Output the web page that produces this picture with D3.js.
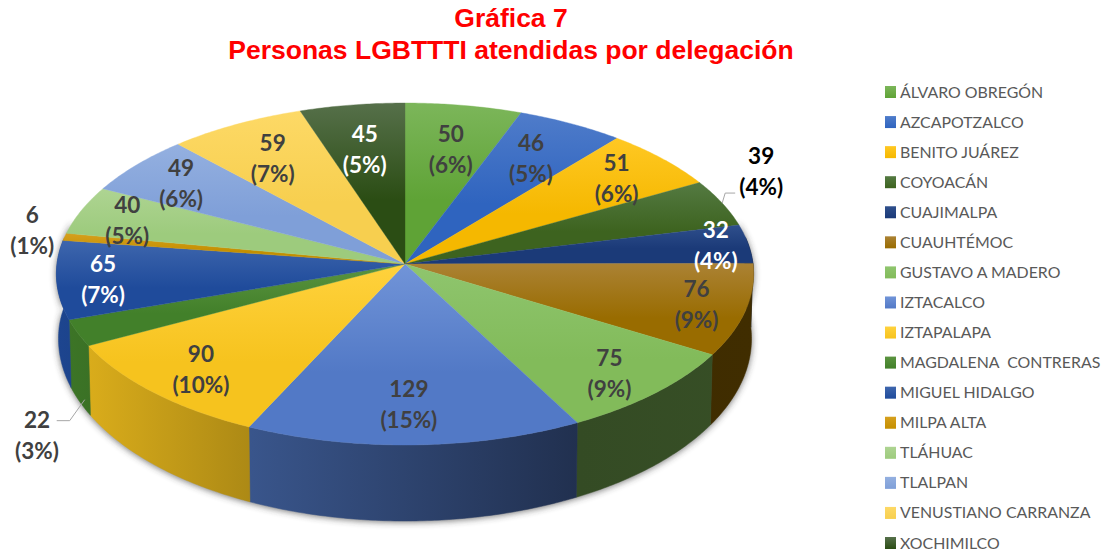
<!DOCTYPE html>
<html><head><meta charset="utf-8">
<script src="https://cdnjs.cloudflare.com/ajax/libs/d3/7.8.5/d3.min.js"></script>
<style>html,body{margin:0;padding:0;background:#fff}svg{display:block}</style>
</head><body><svg id="c" width="1104" height="552"></svg>
<script>
const titleLines = ["Gráfica 7", "Personas LGBTTTI atendidas por delegación"];
const categories = ["ÁLVARO OBREGÓN","AZCAPOTZALCO","BENITO JUÁREZ","COYOACÁN","CUAJIMALPA","CUAUHTÉMOC","GUSTAVO A MADERO","IZTACALCO","IZTAPALAPA","MAGDALENA  CONTRERAS","MIGUEL HIDALGO","MILPA ALTA","TLÁHUAC","TLALPAN","VENUSTIANO CARRANZA","XOCHIMILCO"];
const values = [50,46,51,39,32,76,75,129,90,22,65,6,40,49,59,45];
const percents = ["6%","5%","6%","4%","4%","9%","9%","15%","10%","3%","7%","1%","5%","6%","7%","5%"];
const topColors = ["#7cb65a","#4f7cca","#ffc823","#547a42","#2f4f8c","#ab8234","#8fc56e","#7194d8","#ffd23d","#5b9440","#3e66ad","#d6a01e","#aed492","#94b0e0","#fdd966","#56704a"];
const bottomColors = ["#5fa336","#2f64bf","#f5b800","#3d631f","#1b3a78","#996c00","#82bb5a","#5279c6","#f6c31e","#42802a","#1f4b9b","#c48f00","#9dcb7d","#7f9fd8","#f7cf4f","#2b4d14"];
const labelColors = ["#404040","#404040","#404040","#000000","#ffffff","#404040","#404040","#404040","#404040","#404040","#ffffff","#404040","#404040","#404040","#404040","#ffffff"];
// label displacement from the slice's default anchor (0.75 of the radius)
const labelShift = [[1,6],[0,1],[17,-6],[117,-47],[53,-4],[37,6],[19,13],[-3,6],[-18,10],[-124,120],[-41,3],[-117,-14],[-34,-4],[-21,-5.5],[-4,0],[0,5.5]];

const svg = d3.select("#c");
const cx = 405, cy = 264, rx = 348, ry = 170.4, k = 0.0585;
const wallTaper = 0.994;
const depth = Y => 64 + 12 * Math.max(Y, 0);
const proj = (a, r = 1) => {
  const X = r * Math.sin(a), Y = -r * Math.cos(a), d = 1 - k * Y;
  return [cx + rx * X / d, cy + ry * Y / d];
};
const projLow = a => {
  const [x, y] = proj(a), Y = -Math.cos(a);
  return [cx + (x - cx) * wallTaper, y + depth(Y)];
};
const samples = (a0, a1, f) => {
  const n = Math.max(2, Math.ceil((a1 - a0) / 0.01));
  return d3.range(n + 1).map(i => f(a0 + (a1 - a0) * i / n));
};
const line = d3.line();
const slices = d3.pie().sort(null).value(d => d)(values);
const defs = svg.append("defs");

defs.append("filter").attr("id","blur").attr("x","-10%").attr("y","-20%").attr("width","120%").attr("height","140%")
  .append("feGaussianBlur").attr("stdDeviation",3.5);

// gradients
const wallShade = d3.scaleLinear().domain([0,0.28,0.75,1]).range([0.92,0.7,0.4,0.42]);
slices.forEach((s,i) => {
  const g = defs.append("linearGradient").attr("id","t"+i).attr("x1",0).attr("y1",0).attr("x2",0).attr("y2",1);
  g.append("stop").attr("offset",0).attr("stop-color",topColors[i]);
  g.append("stop").attr("offset",0.6).attr("stop-color",bottomColors[i]);
  const w = defs.append("linearGradient").attr("id","w"+i).attr("gradientUnits","userSpaceOnUse")
    .attr("x1",cx-rx).attr("x2",cx+rx).attr("y1",0).attr("y2",0);
  const base = d3.rgb(bottomColors[i]);
  wallShade.domain().forEach(o => {
    const f = wallShade(o);
    w.append("stop").attr("offset",o).attr("stop-color",d3.rgb(base.r*f,base.g*f,base.b*f).formatHex());
  });
});

// soft shadow below the disc
const lowRing = samples(Math.PI*0.42, Math.PI*1.58, projLow);
const topRing = samples(Math.PI*0.42, Math.PI*1.58, a => proj(a));
svg.append("path").attr("d", line(lowRing.concat(topRing.reverse()))+"Z")
  .attr("fill","#333").attr("opacity",0.7).attr("filter","url(#blur)")
  .attr("transform","translate(0,1)");

// walls of the disc (front half only)
const gWalls = svg.append("g");
slices.forEach((s,i) => {
  const a0 = Math.max(s.startAngle, Math.PI*0.45), a1 = Math.min(s.endAngle, Math.PI*1.55);
  if (a1 <= a0) return;
  const pts = samples(a0,a1,a=>proj(a)).concat(samples(a0,a1,projLow).reverse());
  gWalls.append("path").attr("d", line(pts)+"Z").attr("fill",`url(#w${i})`).attr("stroke",`url(#w${i})`).attr("stroke-width",0.5);
});

// top surface
const gTop = svg.append("g");
slices.forEach((s,i) => {
  const pts = [[cx,cy]].concat(samples(s.startAngle,s.endAngle,a=>proj(a)));
  gTop.append("path").attr("d", line(pts)+"Z").attr("fill",`url(#t${i})`).attr("stroke",`url(#t${i})`).attr("stroke-width",0.4);
});

// leader lines for the two outside labels
const mid = s => (s.startAngle + s.endAngle) / 2;
const leaderCoyo = proj(mid(slices[3]));
const leaderMag = projLow(mid(slices[9]));
const leaders = [
  [leaderCoyo, [leaderCoyo[0]+3, leaderCoyo[1]-10], [leaderCoyo[0]+13, leaderCoyo[1]-10]],
  [[leaderMag[0]+5, leaderMag[1]-2], [leaderMag[0]-10, leaderMag[1]+19], [leaderMag[0]-23, leaderMag[1]+19]]
];
svg.append("g").selectAll("path").data(leaders).join("path")
  .attr("d", d => line(d)).attr("fill","none").attr("stroke","#a6a6a6").attr("stroke-width",1);

// data labels
const gLab = svg.append("g").attr("font-family","Lato").attr("font-weight",700).attr("font-size",22.5).attr("text-anchor","middle");
slices.forEach((s,i) => {
  const [x,y] = proj(mid(s), 0.75);
  const px = x + labelShift[i][0], py = y + labelShift[i][1];
  const t = gLab.append("text").attr("fill",labelColors[i]);
  t.append("tspan").attr("x",px).attr("y",py-7).text(values[i]);
  t.append("tspan").attr("x",px).attr("y",py+24).text(`(${percents[i]})`);
});

// title
svg.append("g").selectAll("text").data(titleLines).join("text")
  .attr("x",511).attr("y",(d,i)=>27+i*32).attr("text-anchor","middle")
  .attr("font-family","Liberation Sans").attr("font-weight",700).attr("font-size",26.5).attr("fill","#ff0000")
  .text(d=>d);

// legend
const legendY = d3.scalePoint().domain(categories).range([92,543]);
const lg = svg.append("g").selectAll("g").data(categories).join("g")
  .attr("transform",d=>`translate(885,${legendY(d)})`);
categories.forEach((c,i)=>{
  const g = defs.append("linearGradient").attr("id","l"+i).attr("x1",0).attr("y1",0).attr("x2",0).attr("y2",1);
  g.append("stop").attr("offset",0).attr("stop-color",topColors[i]);
  g.append("stop").attr("offset",1).attr("stop-color",bottomColors[i]);
});
lg.append("rect").attr("x",0).attr("y",-6).attr("width",11).attr("height",12).attr("fill",(d,i)=>`url(#l${i})`);
lg.append("text").attr("x",15).attr("y",5.5).attr("font-family","Lato").attr("font-size",15.9).attr("fill","#595959")
  .style("white-space","pre").text(d=>d);
</script></body></html>
